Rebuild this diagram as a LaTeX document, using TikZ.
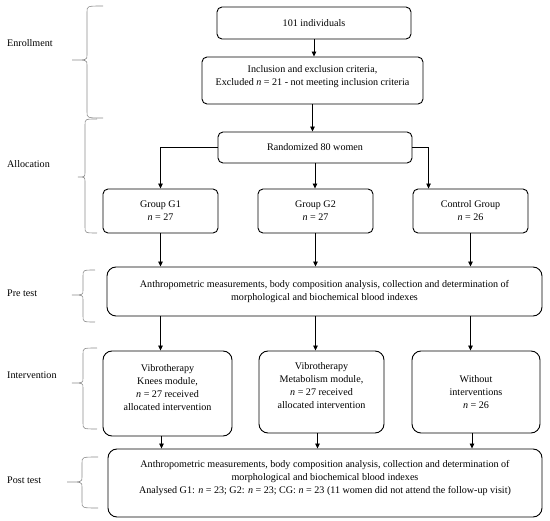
\documentclass[tikz,border=0pt]{standalone}
\usepackage{fontspec}
\setmainfont{Liberation Serif}
\usetikzlibrary{arrows.meta,calc}
\newcommand\mybrace[6]{%
  \draw[bracestyle] (#1,#4) .. controls (#2,#4) .. (#2,#4+6) -- (#2,#5-5)
    .. controls (#2,#5) .. (#3,#5) .. controls (#2,#5) .. (#2,#5+5)
    -- (#2,#6-6) .. controls (#2,#6) .. (#1,#6);}
\begin{document}
\begin{tikzpicture}[x=1pt,y=-1pt,
  box/.style={draw, line width=0.9pt, rounded corners=5pt, align=center,
    inner sep=0pt, font=\fontsize{10.1}{13}\selectfont},
  bigbox/.style={box, rounded corners=9pt},
  arr/.style={line width=0.8pt, -{Triangle[length=5pt,width=4.5pt]}},
  bracestyle/.style={draw=black!45, line width=0.6pt},
  phase/.style={anchor=west, inner sep=0pt, font=\fontsize{10.1}{13}\selectfont}]
\useasboundingbox (0,0) rectangle (550,521);

% phase labels and braces
\node[phase] (lenr) at (7,43) {Enrollment};
\node[phase] (lall) at (7,164) {Allocation};
\node[phase] (lpre) at (7,293) {Pre test};
\node[phase] (lint) at (7,375) {Intervention};
\node[phase] (lpost) at (7,480) {Post test};
\mybrace{103}{87}{72}{6}{60}{118}
\mybrace{97}{85}{78}{119}{177}{233}
\mybrace{95}{83}{72}{270}{295}{322}
\mybrace{97}{83}{72}{348}{383}{429}
\mybrace{98}{82}{67}{457}{482}{508}

% boxes
\node[box, minimum width=194pt, minimum height=32pt] (b101) at (314,23) {101 individuals};
\node[box, minimum width=221pt, minimum height=47pt] (incl) at (312.5,80.5)
  {Inclusion and exclusion criteria,\\ Excluded \textit{n} = 21 - not meeting inclusion criteria\\[-3pt]\mbox{}};
\node[box, minimum width=194pt, minimum height=31pt] (rand) at (315,147.5) {Randomized 80 women};
\node[box, minimum width=115pt, minimum height=44pt] (g1) at (160.5,211) {Group G1\\ \textit{n} = 27};
\node[box, minimum width=115pt, minimum height=44pt] (g2) at (315.5,211) {Group G2\\ \textit{n} = 27};
\node[box, minimum width=115pt, minimum height=44pt] (cg) at (470.5,211) {Control Group\\ \textit{n} = 26};
\node[bigbox, minimum width=435pt, minimum height=49pt] (pre) at (324.5,291.5)
  {Anthropometric measurements, body composition analysis, collection and determination of\\
   morphological and biochemical blood indexes};
\node[bigbox, minimum width=129pt, minimum height=85pt] (knees) at (167.5,393.5)
  {Vibrotherapy\\ Knees module,\\ \textit{n} = 27 received\\ allocated intervention\\ \mbox{}};
\node[bigbox, minimum width=125pt, minimum height=82pt] (meta) at (321.5,392)
  {Vibrotherapy\\ Metabolism module,\\ \textit{n} = 27 received\\ allocated intervention\\ \mbox{}};
\node[bigbox, minimum width=128pt, minimum height=82pt] (wo) at (476,392)
  {Without\\ interventions\\ \textit{n} = 26};
\node[bigbox, minimum width=434pt, minimum height=68pt] (post) at (325,483)
  {Anthropometric measurements, body composition analysis, collection and determination of\\
   morphological and biochemical blood indexes\\
   Analysed G1: \textit{n} = 23; G2: \textit{n} = 23; CG: \textit{n} = 23 (11 women did not attend the follow-up visit)\\ \mbox{}};

% connectors
\draw[arr] (b101.south) -- (b101.south |- incl.north);
\draw[arr] (incl.south) -- (incl.south |- rand.north);
\draw[arr] (rand.west) -| (g1.north);
\draw[arr] (rand.south) -- (rand.south |- g2.north);
\draw[arr] (rand.east) -| ([xshift=16pt]cg.north west);
\draw[arr] (g1.south) -- (g1.south |- pre.north);
\draw[arr] (g2.south) -- (g2.south |- pre.north);
\draw[arr] (cg.south) -- (cg.south |- pre.north);
\draw[arr] (g1.south |- pre.south) -- (g1.south |- knees.north);
\draw[arr] (g2.south |- pre.south) -- (g2.south |- meta.north);
\draw[arr] (cg.south |- pre.south) -- (cg.south |- wo.north);
\draw[arr] ([xshift=1pt]g1.south |- knees.south) -- ([xshift=1pt]g1.south |- post.north);
\draw[arr] ([xshift=2pt]g2.south |- meta.south) -- ([xshift=2pt]g2.south |- post.north);
\draw[arr] ([xshift=1.5pt]cg.south |- wo.south) -- ([xshift=1.5pt]cg.south |- post.north);
\end{tikzpicture}
\end{document}
